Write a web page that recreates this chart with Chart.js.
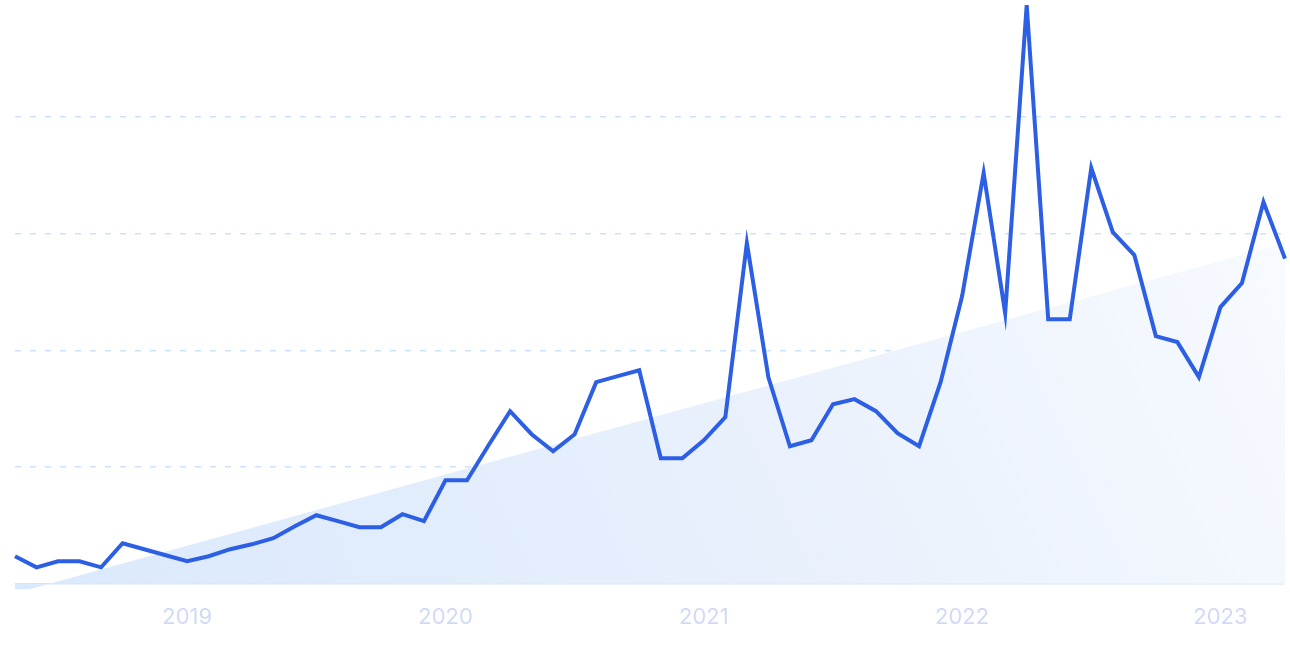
<!DOCTYPE html>
<html>
<head>
<meta charset="utf-8">
<script src="https://cdn.jsdelivr.net/npm/chart.js@4"></script>
<style>
  html, body { margin: 0; padding: 0; background: #ffffff; }
  #wrap { width: 1290px; height: 645px; position: relative; }
</style>
</head>
<body>
<div id="wrap"><canvas id="c"></canvas></div>
<script>
// Categories: monthly, May 2018 .. Apr 2023
const months = [
  '2018-05','2018-06','2018-07','2018-08','2018-09','2018-10','2018-11','2018-12',
  '2019-01','2019-02','2019-03','2019-04','2019-05','2019-06','2019-07','2019-08','2019-09','2019-10','2019-11','2019-12',
  '2020-01','2020-02','2020-03','2020-04','2020-05','2020-06','2020-07','2020-08','2020-09','2020-10','2020-11','2020-12',
  '2021-01','2021-02','2021-03','2021-04','2021-05','2021-06','2021-07','2021-08','2021-09','2021-10','2021-11','2021-12',
  '2022-01','2022-02','2022-03','2022-04','2022-05','2022-06','2022-07','2022-08','2022-09','2022-10','2022-11','2022-12',
  '2023-01','2023-02','2023-03','2023-04'
];

// Main series
const searchVolume = [
  23.6, 14.1, 19.3, 19.3, 14.1, 34.7, 29.6, 24.4,
  19.3, 23.6, 29.6, 33.8, 39.0, 49.3, 58.7, 53.6, 48.4, 48.4, 59.6, 53.6,
  88.7, 88.7, 118.7, 147.8, 128.1, 113.5, 128.1, 172.7, 177.8, 182.9, 107.5, 107.5,
  122.9, 142.7, 291.8, 176.9, 117.8, 122.9, 153.8, 158.1, 147.8, 129.0, 117.8, 172.7,
  246.4, 351.8, 231.8, 495.7, 226.6, 226.6, 356.1, 301.2, 281.5, 212.1, 207.0, 177.0,
  237.0, 257.5, 326.9, 278.5
];

// Trend line end values
const trendStart = -8.1;
const trendEnd = 291.8;

// Y grid tick values and x-axis year labels
const yTicks = [-5, 0, 100, 200, 300, 400, 500];
const yearLabels = ['2019', '2020', '2021', '2022', '2023'];

const trendData = [
  { x: months[0], y: trendStart },
  { x: months[months.length - 1], y: trendEnd }
];

const ctx = document.getElementById('c').getContext('2d');

function trendFill(context) {
  const chart = context.chart;
  const area = chart.chartArea;
  if (!area) return 'rgba(220,233,252,0.8)';
  const g = chart.ctx.createLinearGradient(area.left, area.bottom, area.right, area.top);
  g.addColorStop(0, 'rgba(218,233,252,1)');
  g.addColorStop(0.5, 'rgba(232,240,252,1)');
  g.addColorStop(1, 'rgba(250,252,255,1)');
  return g;
}

new Chart(ctx, {
  type: 'line',
  data: {
    labels: months,
    datasets: [
      {
        label: 'Searches',
        data: searchVolume,
        borderColor: '#2d5fe5',
        borderWidth: 4,
        pointRadius: 0,
        tension: 0,
        fill: false,
        order: 0
      },
      {
        label: 'Trend',
        data: trendData,
        borderWidth: 0,
        borderColor: 'rgba(0,0,0,0)',
        backgroundColor: trendFill,
        pointRadius: 0,
        fill: 'origin',
        order: 1
      }
    ]
  },
  options: {
    responsive: true,
    maintainAspectRatio: false,
    animation: false,
    layout: { padding: { left: 15, right: 5, top: 0, bottom: -1 } },
    plugins: { legend: { display: false }, tooltip: { enabled: false } },
    scales: {
      x: {
        type: 'category',
        offset: false,
        grid: { display: false, drawTicks: false },
        border: { display: false },
        afterFit: function (axis) {
          axis.paddingLeft = 0;
          axis.paddingRight = 0;
        },
        ticks: {
          autoSkip: false,
          maxRotation: 0,
          padding: 15,
          color: '#d0daf5',
          font: { family: 'Inter', size: 22 },
          callback: function (val, idx) {
            const m = months[idx];
            if (m && m.endsWith('-01')) {
              const y = m.slice(0, 4);
              return yearLabels.includes(y) ? y : '';
            }
            return '';
          }
        }
      },
      y: {
        min: -5,
        max: 500,
        afterBuildTicks: function (axis) {
          axis.ticks = yTicks.map(v => ({ value: v }));
        },
        ticks: { display: false },
        grid: {
          drawTicks: false,
          lineWidth: 1.5,
          color: function (c) {
            const v = c.tick ? c.tick.value : null;
            if (v === 0) return '#d3e0f7';
            if (v === 500 || v === -5) return 'rgba(0,0,0,0)';
            return '#cde2fb';
          }
        },
        border: {
          display: false,
          dash: function (c) { return c.tick && c.tick.value === 0 ? [] : [6, 9]; }
        }
      }
    }
  }
});
</script>
</body>
</html>
